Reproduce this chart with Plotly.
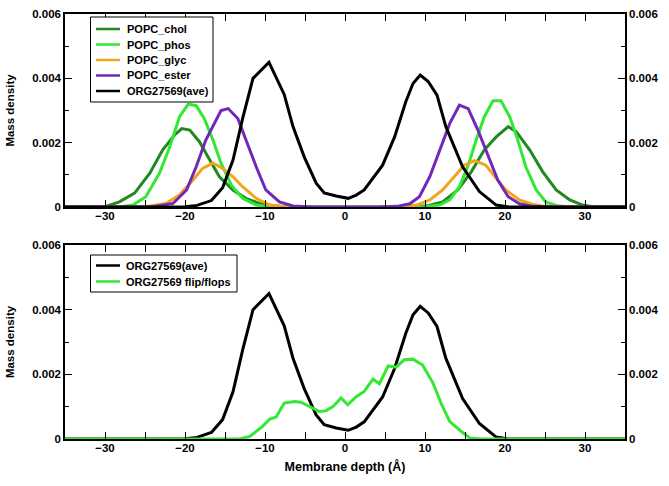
import plotly.graph_objects as go

# ---------------- data ----------------
chol_x = [-35, -30, -28.2, -26.3, -24.4, -22.8, -21.3, -20.4, -19.4, -18.2, -16.9, -15.7, -14, -12.4, -10.7, -9, -7,
          7, 9, 10.5, 12.2, 14.1, 15.8, 17.4, 18.9, 20.4, 21.4, 23.1, 24.7, 26.4, 28.1, 29.7, 31, 35]
chol_y = [0, 0.00001, 0.00016, 0.00043, 0.00105, 0.00177, 0.00224, 0.00244, 0.00239, 0.00203, 0.00146, 0.00094,
          0.00053, 0.00027, 0.00011, 0.00004, 0,
          0, 0.00001, 0.00005, 0.00016, 0.00053, 0.0011, 0.00177, 0.00218, 0.0025, 0.00234, 0.00177, 0.0011,
          0.00053, 0.00022, 0.00006, 0.00001, 0]

phos_x = [-35, -28, -26.5, -24.9, -23.2, -21.9, -20.7, -19.6, -18.6, -17.6, -16.5, -15.5, -14.2, -12.8, -11.1, -9.5, -8,
          8, 10, 11.8, 13.1, 14.3, 15.4, 16.4, 17.4, 18.5, 19.5, 20.6, 21.6, 22.6, 23.9, 25.1, 26.5, 28, 35]
phos_y = [0, 0.00001, 0.00006, 0.00032, 0.00105, 0.00187, 0.0028, 0.0032, 0.00315, 0.00275, 0.00208, 0.00136,
          0.00068, 0.00027, 0.00006, 0.00001, 0,
          0, 0.00001, 0.00006, 0.00022, 0.00063, 0.0013, 0.00208, 0.0028, 0.0033, 0.0033, 0.0028, 0.00208,
          0.00125, 0.00053, 0.00016, 0.00004, 0, 0]

glyc_x = [-35, -25, -22.4, -20.7, -19, -17.8, -16.5, -15.3, -14, -12.8, -11.1, -9.4, -7.5, -5,
          5, 7.5, 9, 10.6, 12.2, 13.7, 14.9, 16.2, 17.6, 18.9, 20.1, 21.8, 23.5, 25, 35]
glyc_y = [0, 0.00001, 0.00011, 0.00037, 0.00084, 0.0012, 0.00137, 0.0012, 0.00094, 0.00063, 0.00027, 0.00006,
          0.00001, 0,
          0, 0.00001, 0.00006, 0.00022, 0.00053, 0.00094, 0.0013, 0.00144, 0.0013, 0.00089, 0.00053, 0.00022,
          0.00008, 0.00002, 0]

ester_x = [-35, -24, -21.5, -19.8, -18.6, -17.4, -15.5, -14.6, -13.4, -12.4, -11.1, -9.9, -8.2, -6.5, -4,
           4, 6.5, 8.1, 9.3, 10.6, 11.8, 13.1, 14.3, 15.4, 16.6, 17.9, 19.1, 20.4, 21.8, 23.5, 26, 35]
ester_y = [0, 0.00001, 0.00011, 0.00053, 0.00125, 0.00208, 0.003, 0.00306, 0.00275, 0.00208, 0.00125, 0.00053,
           0.00016, 0.00003, 0,
           0, 0.00002, 0.0001, 0.00032, 0.00094, 0.00177, 0.0026, 0.00317, 0.00306, 0.0024, 0.00156, 0.00084,
           0.00032, 0.0001, 0.00002, 0, 0]

ave_x = [-35, -22, -20, -18.5, -16.7, -15.3, -14, -12.8, -11.5, -9.5, -7.6, -6.5, -5.1, -3.6, -2.6, -1.1, 0.4,
         1.4, 2.4, 4.7, 6.2, 7.6, 8.5, 9.4, 10.4, 11.5, 12.6, 14.7, 16.8, 18.9, 20.5, 35]
ave_y = [0, 0, 0.00001, 0.00005, 0.0002, 0.0006, 0.00146, 0.00275, 0.004, 0.0045, 0.0035, 0.0025, 0.00156,
         0.00074, 0.00044, 0.00034, 0.00027, 0.00037, 0.00053, 0.0013, 0.00218, 0.00327, 0.00384, 0.0041,
         0.0039, 0.00348, 0.0025, 0.00125, 0.00048, 0.00006, 0, 0]

flip_x = [-35, -13.2, -11.9, -10.3, -9.4, -8.6, -7.6, -6.3, -5.5, -4.4, -3.2, -2.4, -1.5, -0.5, 0.35, 1.4, 2.4,
          3.5, 4.3, 5.4, 6.4, 7.4, 8.5, 9.7, 11, 12, 13.1, 14.5, 15.6, 17, 35]
flip_y = [0, 0, 0.00008, 0.00039, 0.00062, 0.00068, 0.00111, 0.00116, 0.00114, 0.001, 0.00085, 0.00087, 0.001,
          0.00127, 0.00106, 0.00131, 0.00147, 0.00185, 0.00171, 0.00226, 0.00222, 0.00245, 0.00247, 0.00229,
          0.00173, 0.00111, 0.00054, 0.00024, 0.00003, 0, 0]

top_names = ["POPC_chol", "POPC_phos", "POPC_glyc", "POPC_ester", "ORG27569(ave)"]
bottom_names = ["ORG27569(ave)", "ORG27569 flip/flops"]

x_range = [-35, 35]
y_range = [0, 0.006]
x_tickvals = [-30, -20, -10, 0, 10, 20, 30]
y_tickvals = [0, 0.002, 0.004, 0.006]
y_ticktext = ["0", "0.002", "0.004", "0.006"]

# ---------------- styling ----------------
FONT = "Liberation Sans, Arial, Helvetica, sans-serif"
C_CHOL = "#1f8a1f"
C_PHOS = "#33e833"
C_GLYC = "#f2a41c"
C_ESTER = "#7028b8"
C_AVE = "#000000"
LW = 3

W, H = 669, 486
ML, MR, MT, MB = 65, 44, 14, 47
PW, PH = W - ML - MR, H - MT - MB


def px_x(px):
    return (px - ML) / PW


def px_y(py):
    return (H - MB - py) / PH


fig = go.Figure()

top_series = [(chol_x, chol_y, C_CHOL), (phos_x, phos_y, C_PHOS), (glyc_x, glyc_y, C_GLYC),
              (ester_x, ester_y, C_ESTER), (ave_x, ave_y, C_AVE)]
for name, (xs, ys, c) in zip(top_names, top_series):
    fig.add_trace(go.Scatter(x=xs, y=ys, mode="lines", name=name, line=dict(color=c, width=LW),
                             xaxis="x", yaxis="y", showlegend=False))

bottom_series = [(ave_x, ave_y, C_AVE), (flip_x, flip_y, C_PHOS)]
for name, (xs, ys, c) in zip(bottom_names, bottom_series):
    fig.add_trace(go.Scatter(x=xs, y=ys, mode="lines", name=name, line=dict(color=c, width=LW),
                             xaxis="x2", yaxis="y2", showlegend=False))

# dummy traces for right-side label axes
fig.add_trace(go.Scatter(x=[None], y=[None], xaxis="x", yaxis="y3", showlegend=False, hoverinfo="skip"))
fig.add_trace(go.Scatter(x=[None], y=[None], xaxis="x2", yaxis="y4", showlegend=False, hoverinfo="skip"))

tickfont = dict(family=FONT, size=11.5, color="black", weight="bold")


def xax(anchor, show_title):
    d = dict(range=x_range, tickvals=x_tickvals, ticks="inside", ticklen=7, tickwidth=1.2, tickcolor="black",
             showline=True, linecolor="black", linewidth=1.5, mirror="allticks", showgrid=False, zeroline=False,
             tickfont=tickfont, anchor=anchor, automargin=False, ticklabelstandoff=-3,
             minor=dict(dtick=5, tick0=0, ticks="inside", ticklen=4, tickcolor="black", tickwidth=1.2))
    if show_title:
        d["title"] = dict(text="Membrane depth (Å)",
                          font=dict(family=FONT, size=12.5, color="black", weight="bold"), standoff=10)
    return d


def yax(domain, anchor):
    return dict(domain=domain, range=y_range, tickvals=y_tickvals, ticktext=y_ticktext, ticks="inside", ticklen=7,
                tickwidth=1.2, tickcolor="black", showline=True, linecolor="black", linewidth=1.5,
                mirror="allticks", showgrid=False, zeroline=False, tickfont=tickfont, anchor=anchor,
                automargin=False,
                minor=dict(dtick=0.001, tick0=0, ticks="inside", ticklen=4, tickcolor="black", tickwidth=1.2),
                title=dict(text="Mass density", font=dict(family=FONT, size=11.5, color="black", weight="bold"),
                           standoff=15))


def yright(overlay, anchor):
    return dict(overlaying=overlay, side="right", anchor=anchor, range=y_range, tickvals=y_tickvals,
                ticktext=y_ticktext, ticks="", showline=False, showgrid=False, zeroline=False,
                tickfont=tickfont, automargin=False, ticklabelstandoff=3)


TOP_DOM = [px_y(207), px_y(14)]
BOT_DOM = [px_y(439), px_y(245)]

# ---------------- hand-drawn legends (compact like the original) ----------------
shapes = []
annotations = []
LEG_FONT = dict(family=FONT, size=11, color="black", weight="bold")


def add_legend(box, rows, names, colors, text_x):
    x0, y0, x1, y1 = box
    shapes.append(dict(type="rect", xref="paper", yref="paper", x0=px_x(x0), x1=px_x(x1), y0=px_y(y1),
                       y1=px_y(y0), line=dict(color="black", width=1), fillcolor="white", layer="above"))
    for ry, nm, col in zip(rows, names, colors):
        shapes.append(dict(type="line", xref="paper", yref="paper", x0=px_x(96), x1=px_x(120), y0=px_y(ry),
                           y1=px_y(ry), line=dict(color=col, width=2.5), layer="above"))
        annotations.append(dict(xref="paper", yref="paper", x=px_x(text_x), y=px_y(ry), text=nm, showarrow=False,
                                xanchor="left", yanchor="middle", font=LEG_FONT))


add_legend((90.5, 17, 213, 102), [29, 44.5, 60, 75.5, 91], top_names,
           [C_CHOL, C_PHOS, C_GLYC, C_ESTER, C_AVE], 125)
add_legend((90.5, 255, 237, 292), [265.5, 281.5], bottom_names, [C_AVE, C_PHOS], 124)

fig.update_layout(
    width=W, height=H,
    margin=dict(l=ML, r=MR, t=MT, b=MB),
    paper_bgcolor="white", plot_bgcolor="white",
    showlegend=False,
    xaxis=xax("y", False),
    yaxis=yax(TOP_DOM, "x"),
    xaxis2=xax("y2", True),
    yaxis2=yax(BOT_DOM, "x2"),
    yaxis3=yright("y", "x"),
    yaxis4=yright("y2", "x2"),
    shapes=shapes,
    annotations=annotations,
)

fig.write_html("out.html", config={"displayModeBar": False},
               post_script="document.body.style.margin='0px';")
